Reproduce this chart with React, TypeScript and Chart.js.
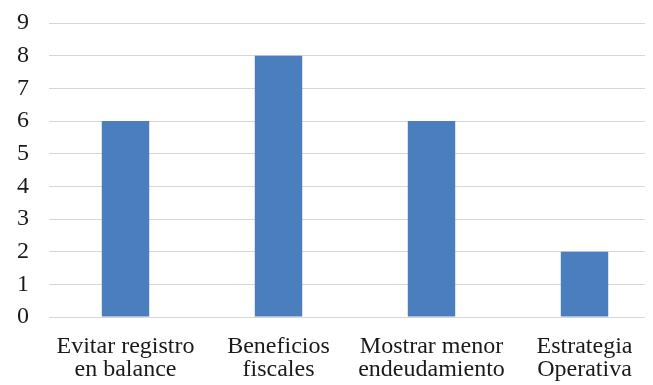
import React, { useEffect, useRef } from "react";
import { Chart, registerables } from "chart.js";

Chart.register(...registerables);

const categories: string[][] = [
  ["Evitar registro", "en balance"],
  ["Beneficios", "fiscales"],
  ["Mostrar menor", "endeudamiento"],
  ["Estrategia", "Operativa"],
];
const values: number[] = [6, 8, 6, 2];
const yMin = 0;
const yMax = 9;

export default function App() {
  const ref = useRef<HTMLCanvasElement | null>(null);
  useEffect(() => {
    document.body.style.overflow = "hidden";
    const font = { family: "'Liberation Serif', 'Times New Roman', serif", size: 24, lineHeight: "23px" };
    const chart = new Chart(ref.current!, {
      type: "bar",
      data: {
        labels: categories,
        datasets: [
          {
            data: values,
            backgroundColor: "#4A7EBF",
            borderWidth: 0,
            categoryPercentage: 1,
            barPercentage: 0.31,
          },
        ],
      },
      options: {
        animation: false,
        responsive: false,
        maintainAspectRatio: false,
        layout: { padding: { left: 0, top: 15, right: 0, bottom: 0 } },
        plugins: { legend: { display: false }, tooltip: { enabled: false } },
        scales: {
          x: {
            grid: { display: false },
            border: { display: false },
            ticks: { color: "#1a1a1a", font, padding: 10, maxRotation: 0, autoSkip: false },
            afterFit: (s: any) => {
              s.height = 68;
              s.paddingLeft = 0;
              s.paddingRight = 0;
            },
          },
          y: {
            min: yMin,
            max: yMax,
            ticks: { stepSize: 1, color: "#1a1a1a", font, padding: 20 },
            grid: { color: "#D9D6D6", lineWidth: 1, drawTicks: false },
            border: { display: false },
            afterFit: (s: any) => {
              s.width = 41;
              s.paddingTop = 0;
              s.paddingBottom = 0;
            },
          },
        },
      },
    });
    return () => chart.destroy();
  }, []);
  return (
    <div style={{ width: 645, height: 377, overflow: "hidden" }}>
      <canvas ref={ref} width={653} height={377} style={{ display: "block", width: 653, height: 377 }} />
    </div>
  );
}
